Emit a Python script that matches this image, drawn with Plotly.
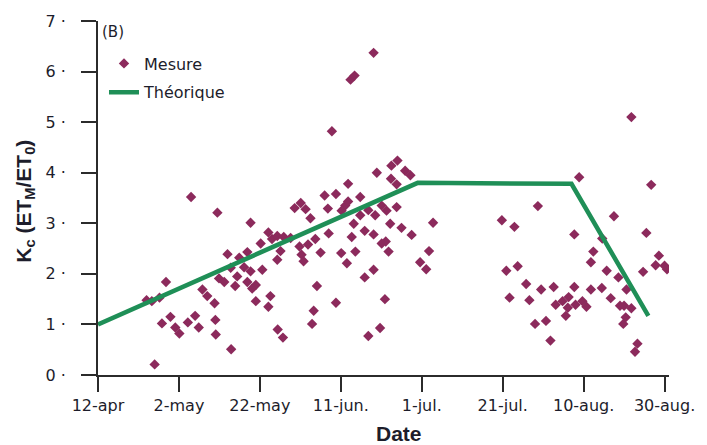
import pandas as pd
import plotly.graph_objects as go

# Season start: day 0 = 12 April
START = pd.Timestamp("2011-04-12")

# Measured crop coefficient Kc = ETM/ET0 (days after 12 April, value)
mesure_days = [
    12.0, 13.3, 15.2, 16.8, 14.0, 15.8, 17.9, 19.1, 20.1, 22.2, 23.0, 24.0, 24.9,
    25.8, 27.0, 28.8, 29.0, 29.1, 29.5, 29.9, 32.9,
    37.7, 32.0, 34.9, 36.9, 32.8, 34.4, 31.2, 33.9, 36.1, 37.7, 36.9, 39.0, 38.1,
    40.6, 40.2, 42.1, 43.0, 44.3, 45.9, 47.6, 45.1, 44.3, 49.8, 51.9, 53.7, 50.3,
    50.8, 48.6, 50.1, 51.3, 52.5, 39.0, 42.6, 42.1, 44.4, 45.7, 53.3, 52.9, 54.1,
    55.0, 57.0, 56.0, 58.8, 56.8, 61.1, 61.8, 60.2, 64.8, 64.8, 63.2, 66.8, 68.5,
    70.1, 71.3, 73.8, 72.2, 75.0, 77.5, 82.8, 81.8, 79.6, 81.1, 65.9, 68.1, 70.1,
    71.8, 62.7, 63.6, 60.1, 61.5, 65.9, 68.1, 70.9, 69.7, 66.8, 58.8, 57.8, 72.5,
    74.0, 68.9, 75.9, 77.2, 72.4, 73.8, 61.8, 68.1, 63.4, 62.4, 71.1,
    118.9, 108.7, 99.8, 102.9, 117.7, 100.9, 103.7, 122.4, 121.8, 105.8, 101.7,
    106.6, 109.5, 112.6, 117.7, 121.8, 124.5, 113.1, 114.8, 116.3, 116.1, 118.0,
    119.7, 120.7, 115.6, 110.7, 108.0, 111.8, 127.5, 135.5, 124.6, 125.7, 128.6,
    130.6, 126.7, 129.0, 130.0, 131.8, 130.4, 129.8, 133.3, 132.7, 134.7, 138.6,
    137.8, 140.0, 140.6, 131.8, 136.7,
]
mesure_kc = [
    1.48, 1.46, 1.53, 1.84, 0.21, 1.02, 1.15, 0.94, 0.82, 1.04, 3.52, 1.17, 0.94,
    1.69, 1.56, 1.42, 1.09, 0.80, 3.21, 1.91, 0.51,
    3.01, 2.39, 2.32, 2.43, 2.12, 1.95, 1.84, 1.76, 2.13, 2.05, 1.84, 1.78, 1.71,
    2.08, 2.60, 2.82, 2.69, 2.75, 2.73, 2.71, 2.45, 2.28, 2.54, 2.58, 2.69, 2.38,
    2.25, 3.30, 3.40, 3.28, 3.10, 1.46, 1.56, 1.35, 0.90, 0.74, 1.27, 1.01, 1.76,
    2.42, 2.80, 3.55, 3.58, 3.29, 3.35, 3.43, 3.25, 3.52, 3.16, 2.99, 3.26, 3.16,
    3.35, 3.25, 3.32, 2.99, 2.91, 2.77, 3.01, 2.45, 2.23, 2.09, 2.85, 2.78, 2.60,
    2.44, 2.73, 2.44, 2.41, 2.21, 1.93, 2.08, 1.50, 0.93, 0.77, 1.43, 4.82, 4.14,
    4.24, 4.00, 4.04, 3.95, 3.88, 3.77, 3.78, 6.37, 5.92, 5.84, 2.64,
    3.91, 3.34, 3.06, 2.93, 2.78, 2.06, 2.15, 2.44, 2.23, 1.80, 1.53,
    1.48, 1.69, 1.74, 1.74, 1.69, 1.72, 1.39, 1.46, 1.54, 1.33, 1.39,
    1.46, 1.35, 1.17, 1.07, 1.01, 0.68, 3.14, 2.81, 2.70, 2.06, 1.93,
    1.69, 1.52, 1.37, 1.37, 1.32, 1.14, 1.01, 0.62, 0.46, 2.04, 2.36,
    2.17, 2.16, 2.09, 5.10, 3.76,
]

# Theoretical Kc curve (break points)
theo_days = [0, 79, 117, 136]
theo_kc = [1.00, 3.80, 3.78, 1.17]

# Axis ticks
tick_days = [0, 20, 40, 60, 80, 100, 120, 140]
tick_text = ["12-apr", "2-may", "22-may", "11-jun.", "1-jul.", "21-jul.", "10-aug.", "30-aug."]
y_ticks = [0, 1, 2, 3, 4, 5, 6, 7]
X_END_DAY = 141.1


def to_date(days):
    return [START + pd.Timedelta(days=float(d)) for d in days]


FONT = "DejaVu Sans, Verdana, sans-serif"
TITLE_FONT = "Liberation Sans, Arial, sans-serif"
TXT = "#1d1d2b"
AXIS = "#2b2b2b"
PURPLE = "#8c2a5c"
GREEN = "#1f8f57"

fig = go.Figure()
fig.add_trace(go.Scatter(
    x=to_date(mesure_days), y=mesure_kc, mode="markers", name="Mesure",
    marker=dict(symbol="diamond", size=8, color=PURPLE, line=dict(width=0)),
    legendgroup="a",
))
fig.add_trace(go.Scatter(
    x=to_date(theo_days), y=theo_kc, mode="lines", name="Théorique",
    line=dict(color=GREEN, width=4.5),
    legendgroup="b",
))

fig.update_layout(
    width=707, height=445,
    margin=dict(l=98, r=35, t=17, b=70),
    paper_bgcolor="white", plot_bgcolor="white",
    font=dict(family=FONT, size=16, color=TXT),
    showlegend=True,
    legend=dict(
        x=0.0105, y=0.928, xanchor="left", yanchor="top",
        bgcolor="rgba(0,0,0,0)", traceorder="grouped", tracegroupgap=5,
        font=dict(family=FONT, size=16, color=TXT), itemwidth=30,
    ),
    xaxis=dict(
        type="date",
        range=[START, START + pd.Timedelta(days=X_END_DAY)],
        tickmode="array", tickvals=to_date(tick_days), ticktext=tick_text,
        ticks="outside", ticklen=15, tickwidth=2, tickcolor=AXIS,
        showline=True, linewidth=2, linecolor=AXIS,
        showgrid=False, zeroline=False,
        tickfont=dict(family=FONT, size=16, color=TXT),
    ),
    yaxis=dict(
        range=[0, 7],
        tickmode="array", tickvals=y_ticks, ticktext=[f"{v} ·" for v in y_ticks],
        ticks="outside", ticklen=15, tickwidth=2, tickcolor=AXIS,
        showline=True, linewidth=2, linecolor=AXIS,
        showgrid=False, zeroline=False,
        tickfont=dict(family=FONT, size=16, color=TXT),
        ticklabelstandoff=12,
    ),
    annotations=[
        dict(text="(B)", xref="paper", yref="paper", x=0.004, y=0.97,
             xanchor="left", yanchor="middle", showarrow=False,
             font=dict(family=FONT, size=15, color=TXT)),
        dict(text="<b>Date</b>", xref="paper", yref="paper", x=0.528, y=-0.165,
             xanchor="center", yanchor="middle", showarrow=False,
             font=dict(family=TITLE_FONT, size=21, color=TXT)),
        dict(text="<b>K<sub>c</sub> (ET<sub>M</sub>/ET<sub>0</sub>)</b>",
             xref="paper", yref="paper", x=-0.128, y=0.492,
             xanchor="center", yanchor="middle", textangle=-90, showarrow=False,
             font=dict(family=TITLE_FONT, size=21, color=TXT)),
    ],
)

fig.write_html("out.html")
